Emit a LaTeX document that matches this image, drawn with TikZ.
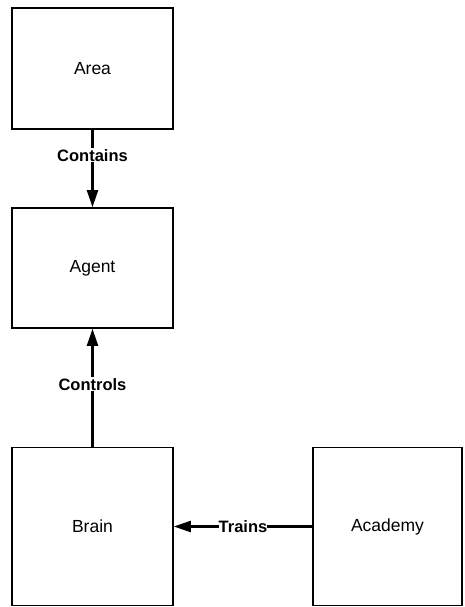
\documentclass[tikz,border=0pt]{standalone}
\usepackage{fontspec}
\setmainfont{Liberation Sans}
\usetikzlibrary{arrows.meta}
\begin{document}
\begin{tikzpicture}[x=1pt,y=-1pt,
  box/.style={draw=black,line width=1.6pt,fill=white,inner sep=0pt,font=\fontsize{17.5}{20}\selectfont},
  conn/.style={line width=2.2pt,-{Triangle[length=17pt,width=11pt]}},
  lbl/.style={fill=white,inner sep=1pt,font=\bfseries\fontsize{16.5}{19}\selectfont}]
\useasboundingbox (0,0) rectangle (464,607);
\node[box,minimum width=161pt,minimum height=121pt] (area) at (92.5,68.5) {Area};
\node[box,minimum width=161pt,minimum height=120pt] (agent) at (92.5,268) {Agent};
\node[box,minimum width=161pt,minimum height=158pt] (brain) at (92.5,526.5) {Brain};
\node[box,minimum width=149pt,minimum height=158pt] (academy) at (387.5,526.5) {Academy};
\draw[conn] (area.south) -- node[lbl,pos=0.33] {Contains} (agent.north);
\draw[conn] (brain.north) -- node[lbl,pos=0.53] {Controls} (agent.south);
\draw[conn] (academy.west) -- node[lbl,pos=0.5,inner sep=0pt] {Trains} (brain.east);
\end{tikzpicture}
\end{document}
